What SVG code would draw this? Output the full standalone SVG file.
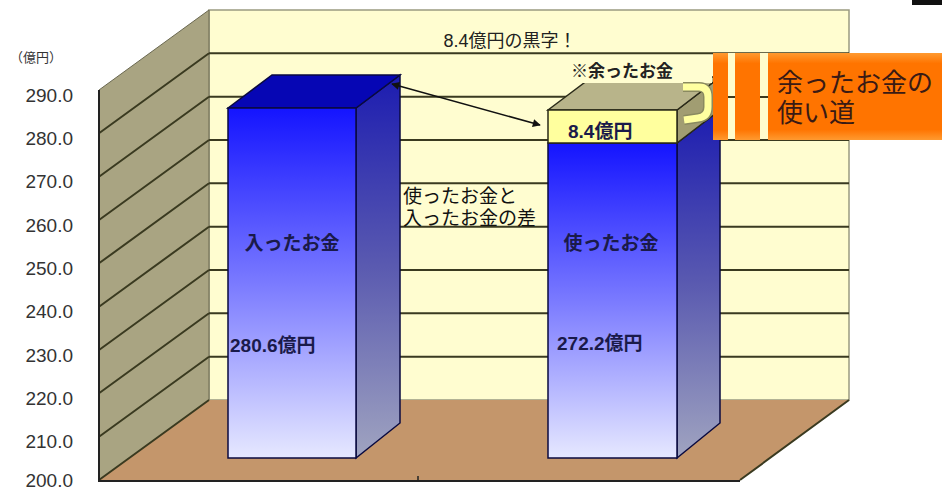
<svg xmlns="http://www.w3.org/2000/svg" width="942" height="491" viewBox="0 0 942 491">
  <defs>
    <style>
      .grid { stroke: #3a3a20; stroke-width: 2; fill: none; }
      .ylab { font-family: "Liberation Sans", Arial, sans-serif; font-size: 19px; fill: #333; text-anchor: end; }
      .jp { font-family: "Liberation Sans", "Noto Sans CJK JP", sans-serif; }
      .barlab { font-family: "Liberation Sans", "Noto Sans CJK JP", sans-serif; font-size: 19px; font-weight: bold; fill: #1a1a4a; }
      .edge { stroke: #0a0a40; stroke-width: 1.5; }
    </style>
    <linearGradient id="frontGrad" x1="0" y1="0" x2="0" y2="1">
      <stop offset="0" stop-color="#1414ff"/>
      <stop offset="0.5" stop-color="#7a7aff"/>
      <stop offset="1" stop-color="#e6e8ff"/>
    </linearGradient>
    <linearGradient id="sideGrad" x1="0" y1="0" x2="0" y2="1">
      <stop offset="0" stop-color="#1c1cb0"/>
      <stop offset="0.5" stop-color="#5a5ab0"/>
      <stop offset="1" stop-color="#a0a4c0"/>
    </linearGradient>
    <linearGradient id="orangeGrad" x1="0" y1="0" x2="0" y2="1">
      <stop offset="0" stop-color="#ff9a30"/>
      <stop offset="0.12" stop-color="#ff7400"/>
      <stop offset="0.88" stop-color="#ff7400"/>
      <stop offset="1" stop-color="#ff9a30"/>
    </linearGradient>
    <marker id="ah" viewBox="0 0 10 10" refX="9" refY="5" markerWidth="10" markerHeight="8" orient="auto-start-reverse" markerUnits="userSpaceOnUse">
      <path d="M0,0 L10,5 L0,10 z" fill="#111"/>
    </marker>
  </defs>

  <rect width="942" height="491" fill="#ffffff"/>

  <g id="chart-frame">
    <rect x="209" y="10" width="640" height="390" fill="#fffdd0" stroke="#9a9a80" stroke-width="1.5"/>
    <polygon points="99,90 209,10 209,400 99,480" fill="#a9a482" stroke="#6a6850" stroke-width="1"/>
    <polygon points="99,480 209,400 849,400 740,480" fill="#c4966b"/>
    <path d="M99,480 L209,400 M740,480 L849,400" stroke="#3a3a20" stroke-width="2" fill="none"/>
    <path class="grid" d="M209,53.3 H849 M209,96.7 H849 M209,140 H849 M209,183.3 H849 M209,226.7 H849 M209,270 H849 M209,313.3 H849 M209,356.7 H849"/>
    <path class="grid" d="M99,133.3 L209,53.3 M99,176.7 L209,96.7 M99,220 L209,140 M99,263.3 L209,183.3 M99,306.7 L209,226.7 M99,350 L209,270 M99,393.3 L209,313.3 M99,436.7 L209,356.7"/>
    <path d="M99,90 V481 H740" stroke="#222" stroke-width="2" fill="none"/>
    <path d="M418,476 V481" stroke="#222" stroke-width="1.5"/>
  </g>

  <g id="y-axis-labels">
    <text x="62" y="62" class="jp" font-size="13" fill="#333" text-anchor="end">（億円）</text>
    <text class="ylab" x="73" y="102">290.0</text>
    <text class="ylab" x="73" y="145">280.0</text>
    <text class="ylab" x="73" y="188">270.0</text>
    <text class="ylab" x="73" y="232">260.0</text>
    <text class="ylab" x="73" y="275">250.0</text>
    <text class="ylab" x="73" y="318">240.0</text>
    <text class="ylab" x="73" y="362">230.0</text>
    <text class="ylab" x="73" y="405">220.0</text>
    <text class="ylab" x="73" y="448">210.0</text>
    <text class="ylab" x="73" y="487">200.0</text>
  </g>

  <g id="bar-income">
    <polygon points="356,108 400,75 400,423 356,458" fill="url(#sideGrad)" class="edge"/>
    <polygon points="228,108 272,75 400,75 356,108" fill="#0606b4" class="edge"/>
    <rect x="228" y="108" width="128" height="350" fill="url(#frontGrad)" class="edge"/>
    <text class="barlab" x="292" y="250" text-anchor="middle">入ったお金</text>
    <text class="barlab" x="230" y="352" font-size="21">280.6億円</text>
  </g>

  <g id="bar-spent">
    <polygon points="677,143 720,110 720,423 677,458" fill="url(#sideGrad)" class="edge"/>
    <rect x="548" y="143" width="129" height="315" fill="url(#frontGrad)" class="edge"/>
    <text class="barlab" x="611" y="250" text-anchor="middle">使ったお金</text>
    <text class="barlab" x="557" y="350" font-size="21">272.2億円</text>
  </g>

  <g id="surplus-segment">
    <polygon points="677,110 720,77 720,110 677,143" fill="#a19d72" stroke="#2a2a18" stroke-width="1.5"/>
    <polygon points="548,110 592,77 720,77 677,110" fill="#b8b48a" stroke="#2a2a18" stroke-width="1.5"/>
    <rect x="548" y="110" width="129" height="33" fill="#ffff9e" stroke="#2a2a18" stroke-width="1.5"/>
    <text class="barlab" x="568" y="138">8.4億円</text>
  </g>

  <g id="surplus-note">
    <rect x="560" y="56" width="152" height="27" fill="#fffdd0"/>
    <text class="jp" x="571" y="77" font-size="17" font-weight="bold" fill="#222">※余ったお金</text>
    <path d="M683,87 L699,87 Q708,87 708,97 L708,107 Q708,117 698,118 L684,120" fill="none" stroke="#8a8a60" stroke-width="10"/>
    <path d="M683,87 L699,87 Q708,87 708,97 L708,107 Q708,117 698,118 L684,120" fill="none" stroke="#ffffa0" stroke-width="7"/>
  </g>

  <g id="title">
    <text class="jp" x="510" y="47" font-size="18" fill="#222" text-anchor="middle">8.4億円の黒字！</text>
  </g>

  <g id="difference-label">
    <text class="jp" x="403" y="203" font-size="19" fill="#111">使ったお金と</text>
    <text class="jp" x="403" y="225" font-size="19" fill="#111">入ったお金の差</text>
  </g>

  <g id="usage-box">
    <rect x="713" y="53" width="229" height="87" fill="url(#orangeGrad)"/>
    <rect x="728" y="53" width="7" height="87" fill="#fffccc"/>
    <rect x="760" y="53" width="8" height="87" fill="#fffccc"/>
    <path d="M728,97 h7 M760,97 h8 M728,140 h7 M760,140 h8" stroke="#3a3a20" stroke-width="2"/>
    <text class="jp" x="777" y="92" font-size="26" fill="#3a1a14">余ったお金の</text>
    <text class="jp" x="777" y="122" font-size="26" fill="#3a1a14">使い道</text>
  </g>

  <g id="connectors">
    <line x1="392" y1="84" x2="540" y2="125" stroke="#111" stroke-width="1.5" marker-start="url(#ah)" marker-end="url(#ah)"/>
  </g>

  <rect x="912" y="0" width="30" height="5" fill="#111"/>
</svg>
